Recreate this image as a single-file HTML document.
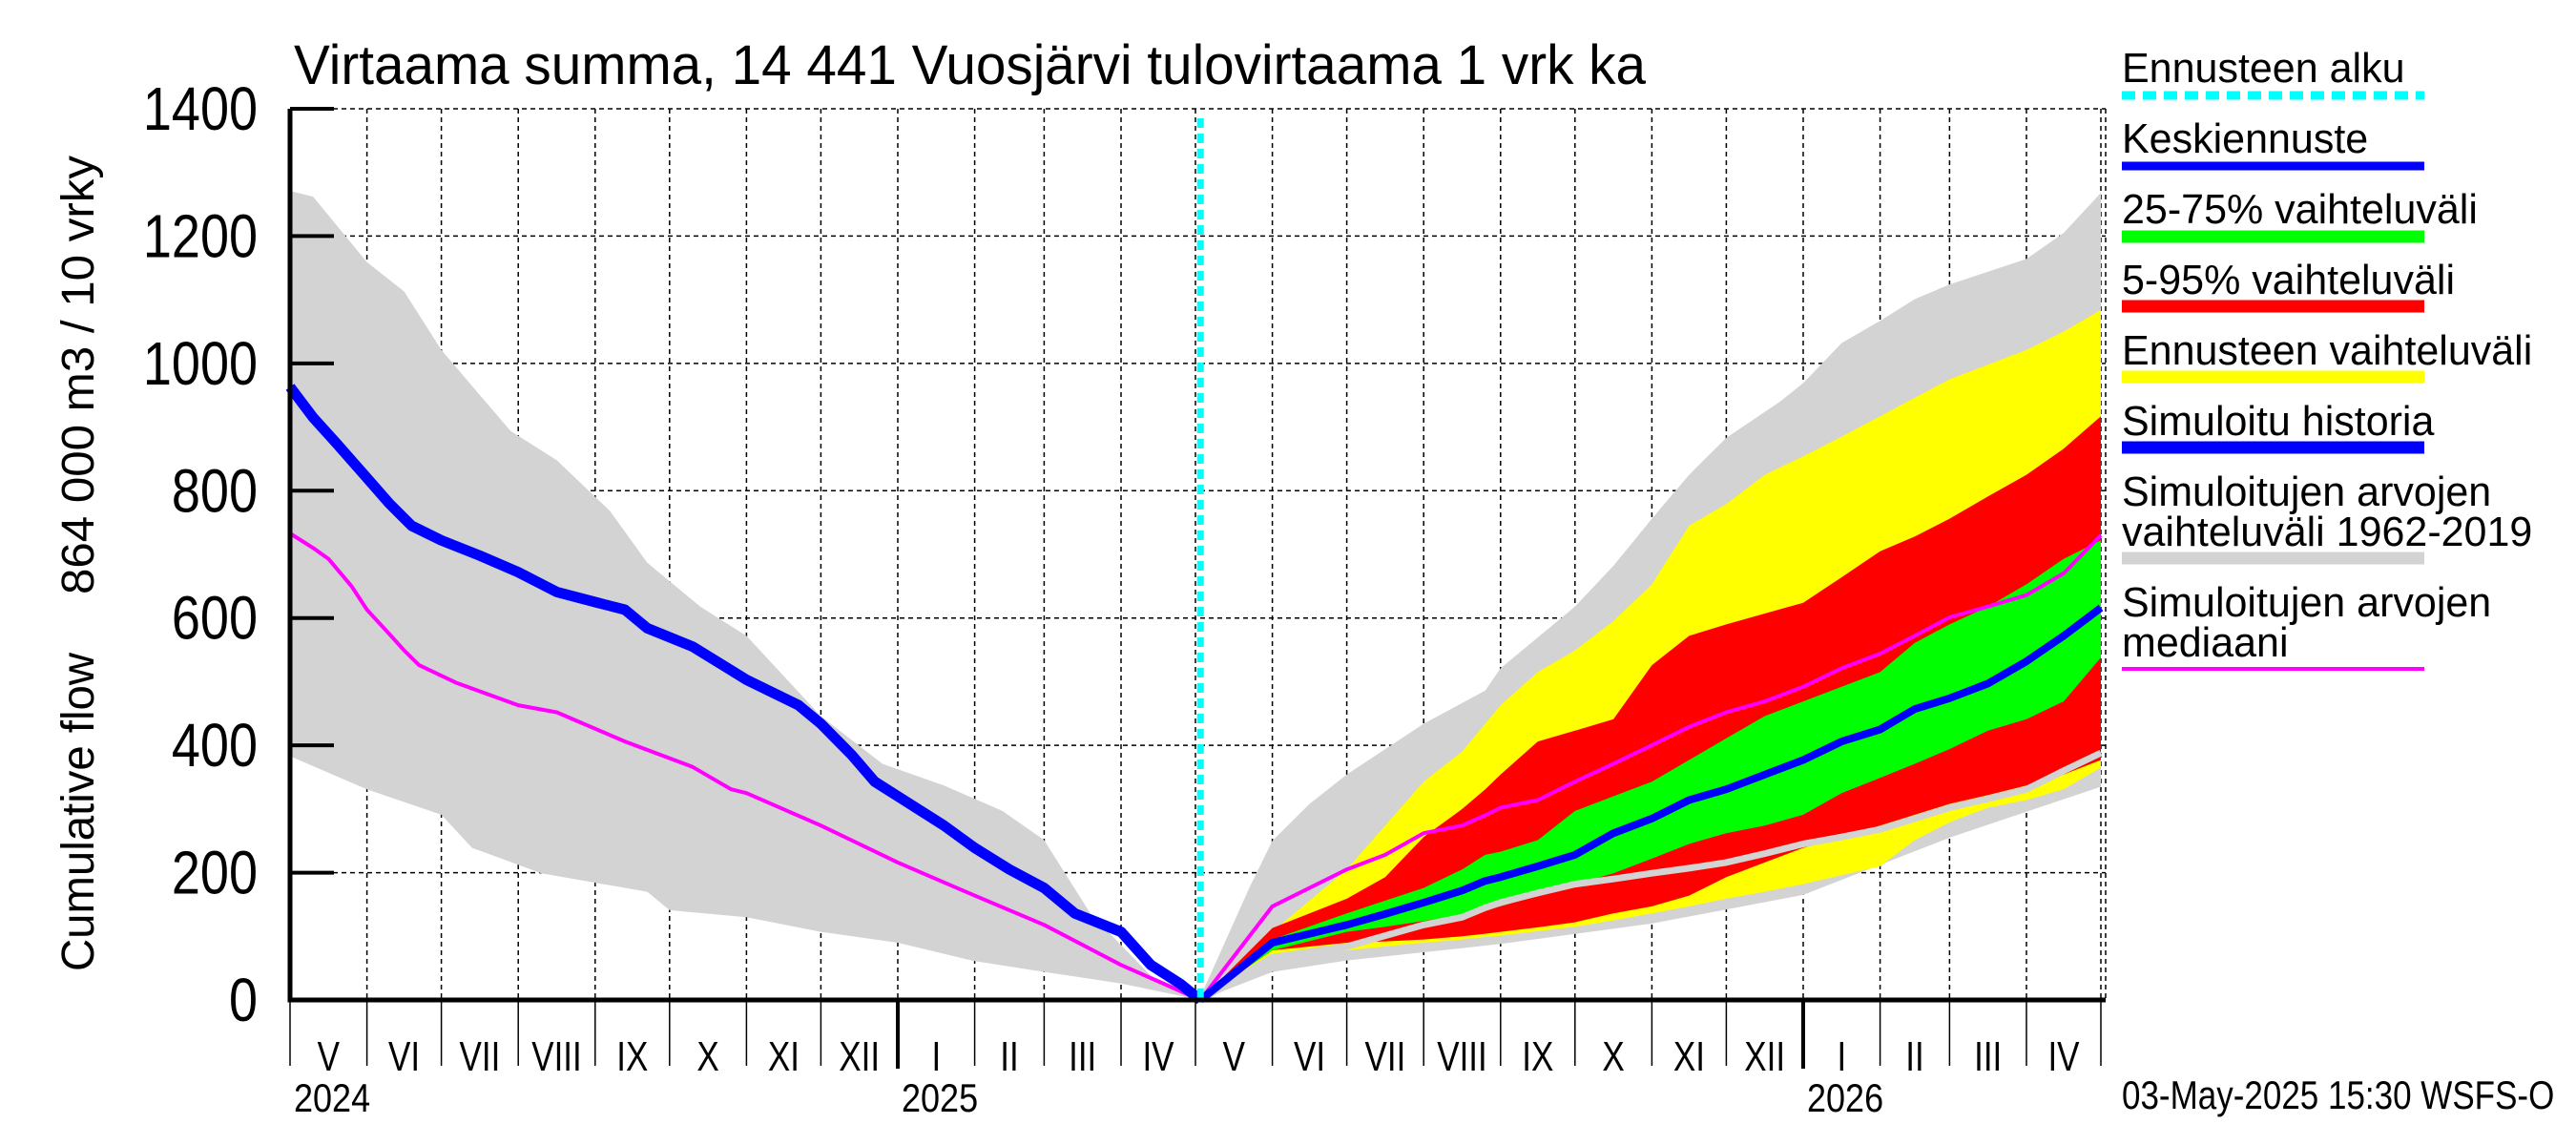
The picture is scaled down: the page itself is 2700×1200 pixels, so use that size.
<!DOCTYPE html>
<html><head><meta charset="utf-8"><style>
html,body{margin:0;padding:0;background:#fff;}
svg{display:block;font-family:"Liberation Sans",Arial,sans-serif;}
</style></head><body>
<svg id="chart" width="2700" height="1200" viewBox="0 0 2700 1200" xmlns="http://www.w3.org/2000/svg">
<g id="grid"></g>
<g id="bands"></g>
<g id="lines"></g>
<g id="axes"></g>
<text x="308" y="88" font-size="58" textLength="1417" lengthAdjust="spacingAndGlyphs">Virtaama summa, 14 441 Vuosjärvi tulovirtaama 1 vrk ka</text>
<text transform="translate(98,1018) rotate(-90)" font-size="48" textLength="334" lengthAdjust="spacingAndGlyphs">Cumulative flow</text>
<text transform="translate(98,623) rotate(-90)" font-size="48" textLength="460" lengthAdjust="spacingAndGlyphs">864 000 m3 / 10 vrky</text>
<text id="ts" x="2224" y="1162" font-size="35">03-May-2025 15:30 WSFS-O</text>
<g id="legend" font-size="40"></g>
</svg>
<script>
// ---- data (t = months since 1 May 2024; values in 864 000 m3 / 10 vrky) ----
const yTicks = [0,200,400,600,800,1000,1200,1400];
const monthLabels = ["V","VI","VII","VIII","IX","X","XI","XII","I","II","III","IV","V","VI","VII","VIII","IX","X","XI","XII","I","II","III","IV"];
const yearLabels = [{t:0,label:"2024"},{t:8,label:"2025"},{t:20,label:"2026"}];
const forecastStart = 12.065;

const histT    = [0,0.3,0.6,1,1.3,1.6,2,2.5,3,3.5,4,4.4,4.7,5.3,6,6.7,7,7.4,7.7,8,8.6,9,9.5,10,10.4,11,11.4,11.8,12.065];
const histBlue = [963,915,875,820,780,745,722,698,672,641,625,613,584,555,503,463,434,385,343,320,274,239,205,176,136,107,55,25,0];
const histMagT = [0,0.3,0.5,0.8,1,1.3,1.5,1.7,2.2,3,3.5,4.4,5.3,5.8,6,7,8,9,10,11,12.065];
const histMag  = [733,710,693,650,613,575,549,526,498,463,452,406,366,331,325,274,216,164,118,55,0];
const greyHiT  = [0,0.3,1,1.5,2,2.9,3.5,4.2,4.7,5.4,6,7,7.8,8.6,9.4,10,10.6,11.4,12.065,12.7,13,13.5,14,15,15.8,16,17,17.5,18,18.5,19,19.7,20,20.5,21,21.5,22,23,23.5,24];
const greyHi   = [1271,1262,1159,1113,1021,894,848,768,687,618,572,446,371,337,297,251,136,38,5,176,250,308,354,434,486,521,618,682,756,825,883,940,969,1032,1067,1101,1124,1164,1205,1268];
const greyLoT  = [0,1,2,2.4,3.3,4.7,5,6,7,8,9,10,11,12.065,13,14,15,16,18,20,22,24];
const greyLo   = [383,331,291,239,199,170,141,130,107,90,61,44,26,0,44,62,75,88,120,165,255,335];

const fcT      = [12.065,13,14,14.5,15,15.5,15.8,16,16.5,17,17.5,18,18.5,19,19.5,20,20.5,21,21.5,22,22.5,23,23.5,24];
const yelHi    = [0,107,205,274,343,390,434,463,515,549,595,653,745,779,825,854,885,917,946,975,998,1021,1050,1084];
const yelLo    = [0,72,78,84,90,95,99,101,108,115,125,136,147,159,170,182,196,210,251,279,302,314,331,365];
const redHi    = [0,113,159,193,256,300,331,354,406,423,441,526,572,590,607,624,664,705,728,756,791,825,866,917];
const redLo    = [0,78,90,92,95,100,104,107,114,122,136,147,164,193,216,239,256,274,291,308,322,337,354,377];
const grnHi    = [0,95,136,156,176,205,228,233,251,297,320,343,377,411,446,469,492,515,561,590,618,653,693,722];
const grnLo    = [0,78,107,115,124,134,143,147,164,182,199,222,245,262,274,291,325,349,371,394,423,441,469,538];
const fcBlue   = [0,90,118,135,153,172,187,193,210,228,262,285,314,331,354,377,406,425,457,474,497,532,572,616];
const fcMag    = [0,147,205,228,262,274,290,302,314,343,371,400,429,452,469,492,521,544,572,601,618,636,670,730];
const fcGrey   = [0,67,84,101,118,130,145,153,168,182,190,199,207,216,230,245,256,268,285,302,316,331,360,388];

// ---- scales ----
const X0=304, X1=2202, YT=114, YB=1048, VMAX=1400;
const mdays=[31,30,31,31,30,31,30,31,31,28,31,30,31,30,31,31,30,31,30,31,31,28,31,30];
const cum=[0]; mdays.forEach(d=>cum.push(cum[cum.length-1]+d));
const PXD=(X1-X0)/cum[24];
function xS(t){const i=Math.min(23,Math.floor(t));return X0+(cum[i]+(t-i)*mdays[i])*PXD;}
function yS(v){return YB-(v/VMAX)*(YB-YT);}
const NS="http://www.w3.org/2000/svg";
function mk(tag,attrs,parent){const e=document.createElementNS(NS,tag);for(const k in attrs)e.setAttribute(k,attrs[k]);parent.appendChild(e);return e;}
function narrow(el,newSize){const w=el.getComputedTextLength();el.setAttribute('font-size',newSize);el.setAttribute('textLength',w.toFixed(1));el.setAttribute('lengthAdjust','spacingAndGlyphs');}
const grid=document.getElementById('grid'),bands=document.getElementById('bands'),lines=document.getElementById('lines'),axes=document.getElementById('axes'),legend=document.getElementById('legend');

// grid
yTicks.forEach(v=>{if(v===0)return;const l=mk('line',{x1:X0,x2:2207,y1:yS(v),y2:yS(v),stroke:'#000','stroke-width':1.5,'stroke-dasharray':'5,4'},grid);

});
for(let m=1;m<=24;m++){const l=mk('line',{x1:xS(m),x2:xS(m),y1:YT,y2:YB,stroke:'#000','stroke-width':1.5,'stroke-dasharray':'5,4'},grid);

}
const rb=mk('line',{x1:2207,x2:2207,y1:YT,y2:YB,stroke:'#000','stroke-width':1.5,'stroke-dasharray':'5,4'},grid);



function band(tHi,hi,tLo,lo,color,name){
 let d='';tHi.forEach((t,i)=>{d+=(i?'L':'M')+xS(t).toFixed(1)+','+yS(hi[i]).toFixed(1);});
 for(let i=tLo.length-1;i>=0;i--)d+='L'+xS(tLo[i]).toFixed(1)+','+yS(lo[i]).toFixed(1);
 const p=mk('path',{d:d+'Z',fill:color},bands);
 
 }
function line(ts,vs,color,w,name){
 let d='';ts.forEach((t,i)=>{d+=(i?'L':'M')+xS(t).toFixed(1)+','+yS(vs[i]).toFixed(1);});
 const p=mk('path',{d:d,fill:'none',stroke:color,'stroke-width':w,'stroke-linejoin':'round'},lines);
 
 }
band(greyHiT,greyHi,greyLoT,greyLo,'#d3d3d3','simulated-range-band');
band(fcT,yelHi,fcT,yelLo,'#ffff00','forecast-range-band');
band(fcT,redHi,fcT,redLo,'#ff0000','band-5-95');
band(fcT,grnHi,fcT,grnLo,'#00ff00','band-25-75');
line(fcT,fcGrey,'#d3d3d3',7,'simulated-grey-line');
line(histMagT,histMag,'#ff00ff',4,'median-history-line');
line(fcT,fcMag,'#ff00ff',4,'median-forecast-line');
line(histT,histBlue,'#0000ff',11,'simulated-history-line');
line(fcT,fcBlue,'#0000ff',8,'mean-forecast-line');
const cy=mk('line',{x1:xS(forecastStart),x2:xS(forecastStart),y1:YT+10,y2:YB,stroke:'#00ffff','stroke-width':7,'stroke-dasharray':'10,6'},lines);



// axes
const ax=mk('path',{d:`M${X0},${YT} L${X0},${YB} L2207,${YB}`,fill:'none',stroke:'#000','stroke-width':5},axes);


yTicks.forEach(v=>{
 const tk=mk('line',{x1:X0,x2:X0+46,y1:yS(v),y2:yS(v),stroke:'#000','stroke-width':4},axes);
 
 
 const tx=mk('text',{x:270,y:yS(v)+22,'font-size':54,'text-anchor':'end'},axes);
 tx.textContent=v;
 
 
 narrow(tx,64);});
for(let m=0;m<=24;m++){
 const isJan=(m===8||m===20);
 const tk=mk('line',{x1:xS(m),x2:xS(m),y1:YB,y2:isJan?1120:1117,stroke:'#000','stroke-width':isJan?4:1.5},axes);
 
 }
monthLabels.forEach((lab,m)=>{
 const tx=mk('text',{x:(xS(m)+xS(m+1))/2,y:1122,'font-size':35,'text-anchor':'middle'},axes);
 tx.textContent=lab;
 
 
 narrow(tx,44);});
yearLabels.forEach(y=>{
 const tx=mk('text',{x:xS(y.t)+4,y:1165,'font-size':36},axes);
 tx.textContent=y.label;
 
 
 narrow(tx,42);});
narrow(document.getElementById('ts'),42);

// legend
const legItems=[
 {lines:["Ennusteen alku"],ty:[86],ly:100,color:'#00ffff',w:9,dash:'14,8'},
 {lines:["Keskiennuste"],ty:[160],ly:174,color:'#0000ff',w:9},
 {lines:["25-75% vaihteluväli"],ty:[234],ly:248,color:'#00ff00',w:13},
 {lines:["5-95% vaihteluväli"],ty:[308],ly:321,color:'#ff0000',w:13},
 {lines:["Ennusteen vaihteluväli"],ty:[382],ly:395,color:'#ffff00',w:13},
 {lines:["Simuloitu historia"],ty:[456],ly:469,color:'#0000ff',w:13},
 {lines:["Simuloitujen arvojen","vaihteluväli 1962-2019"],ty:[530,572],ly:585,color:'#d3d3d3',w:13},
 {lines:["Simuloitujen arvojen","mediaani"],ty:[646,688],ly:701,color:'#ff00ff',w:4}
];
legItems.forEach(it=>{
 it.lines.forEach((s,i)=>{const tx=mk('text',{x:2224,y:it.ty[i],'font-size':43},legend);tx.textContent=s;
  
  
  narrow(tx,44);});
 const a={x1:2224,x2:2541,y1:it.ly,y2:it.ly,stroke:it.color,'stroke-width':it.w};
 if(it.dash)a['stroke-dasharray']=it.dash;
 const ln=mk('line',a,legend);
 
 });
</script>
</body></html>
